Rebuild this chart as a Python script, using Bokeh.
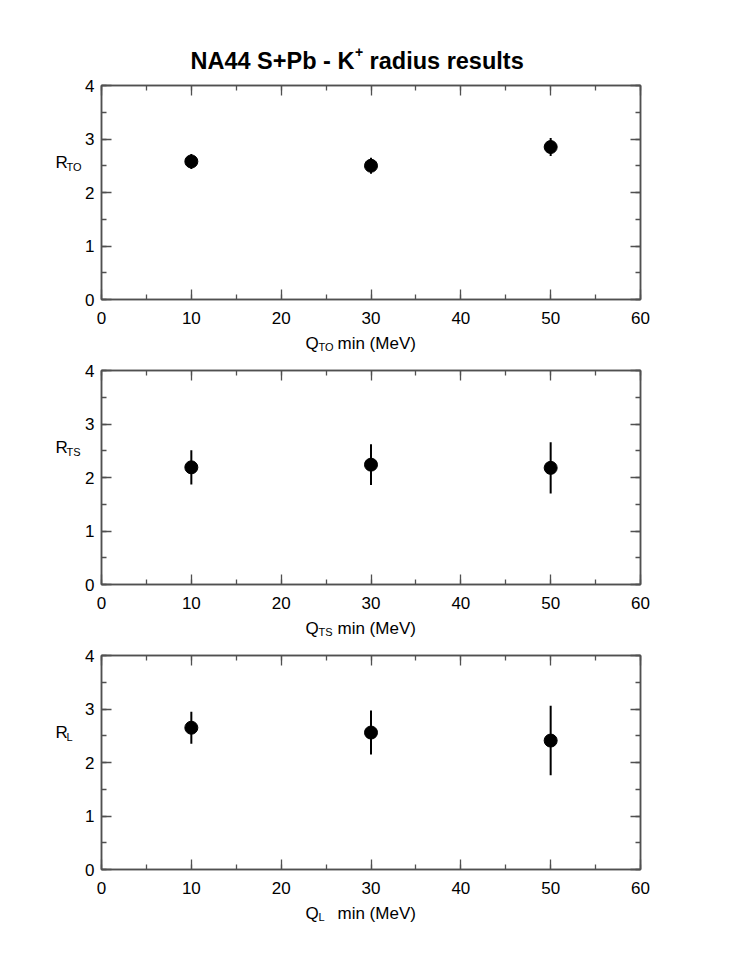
from bokeh.plotting import figure
from bokeh.layouts import column, row
from bokeh.models import (Range1d, LinearAxis, SingleIntervalTicker, Label,
                          CustomJSTickFormatter, ColumnDataSource)
from bokeh.embed import file_html
from bokeh.resources import INLINE

# ---- data ----
q_min = [10, 30, 50]
r_to = [2.58, 2.50, 2.85]
r_to_err = [0.14, 0.15, 0.17]
r_ts = [2.19, 2.24, 2.18]
r_ts_err = [0.32, 0.38, 0.48]
r_l = [2.65, 2.56, 2.41]
r_l_err = [0.30, 0.41, 0.65]

title_main = "NA44 S+Pb - K"
title_sup = "+"
title_rest = "radius results"
panels = [
    ("TO", r_to, r_to_err),
    ("TS", r_ts, r_ts_err),
    ("L", r_l, r_l_err),
]

FONT = "Liberation Sans"
AX_COL = "#505050"
PAGE_W = 740
FRAME_W, FRAME_H = 539, 214
YLAB_W = 82
LEFT_B, BOT_B = 19, 31
RIGHT_B = PAGE_W - YLAB_W - LEFT_B - FRAME_W
XLAB_H = 30
TITLE_H = 75
TOP_BS = [10, 10, 10]


def style_axis(ax, labels=True):
    ax.axis_line_color = AX_COL
    ax.axis_line_width = 1.5
    ax.major_tick_line_color = AX_COL
    ax.minor_tick_line_color = AX_COL
    ax.major_tick_line_width = 1.3
    ax.minor_tick_line_width = 1.3
    ax.major_tick_in = 10
    ax.major_tick_out = 0
    ax.minor_tick_in = 5
    ax.minor_tick_out = 0
    ax.major_label_text_font = FONT
    ax.major_label_text_color = "black"
    if labels:
        ax.major_label_text_font_size = "17px"
    else:
        ax.formatter = CustomJSTickFormatter(code="return ''")
        ax.major_label_text_font_size = "0px"
        ax.major_label_standoff = 0


def text_fig(w, h):
    f = figure(width=w, height=h, x_range=Range1d(0, w), y_range=Range1d(h, 0),
               min_border=0, x_axis_location=None, y_axis_location=None,
               output_backend="svg", toolbar_location=None)
    f.grid.visible = False
    f.outline_line_color = None
    f.background_fill_color = "white"
    f.border_fill_color = "white"
    return f


def txt(f, x, y, s, size, bold=False, align="left"):
    f.add_layout(Label(x=x, y=y, text=s, text_font=FONT, text_font_size=size,
                       text_font_style="bold" if bold else "normal",
                       text_baseline="alphabetic", text_align=align,
                       text_color="black"))


children = []
tf = text_fig(PAGE_W, TITLE_H)
# title pieces (Helvetica-Bold widths: main 6.974 em, space 0.278 em)
TS = 23.5
tx0 = 190
TB = 60
txt(tf, tx0, TB, title_main, f"{TS}px", bold=True)
tx1 = tx0 + 6.974 * TS + 0.5
txt(tf, tx1, TB - 9, title_sup, "14px", bold=True)
tx2 = tx1 + 0.584 * 14 + 0.278 * TS
txt(tf, tx2, TB, title_rest, f"{TS}px", bold=True)
children.append(tf)

for i, (sub, vals, errs) in enumerate(panels):
    top_b = TOP_BS[i]
    p = figure(frame_width=FRAME_W, frame_height=FRAME_H,
               min_border_left=LEFT_B, min_border_right=RIGHT_B,
               min_border_top=top_b, min_border_bottom=BOT_B,
               x_range=Range1d(0, 60), y_range=Range1d(0, 4),
               x_axis_location=None, y_axis_location=None,
               output_backend="svg", toolbar_location=None)
    p.grid.visible = False
    p.outline_line_color = AX_COL
    p.outline_line_width = 1.5
    p.background_fill_color = "white"
    p.border_fill_color = "white"

    def xt():
        return SingleIntervalTicker(interval=10, num_minor_ticks=2)

    def yt():
        return SingleIntervalTicker(interval=1, num_minor_ticks=2)

    xb = LinearAxis(ticker=xt(), major_label_standoff=12)
    style_axis(xb)
    p.add_layout(xb, "below")
    yl = LinearAxis(ticker=yt(), major_label_standoff=7)
    style_axis(yl)
    p.add_layout(yl, "left")
    xa = LinearAxis(ticker=xt())
    style_axis(xa, labels=False)
    p.add_layout(xa, "above")
    yr = LinearAxis(ticker=yt())
    style_axis(yr, labels=False)
    p.add_layout(yr, "right")

    src = ColumnDataSource(dict(x=q_min, y=vals,
                                lo=[v - e for v, e in zip(vals, errs)],
                                hi=[v + e for v, e in zip(vals, errs)]))
    p.segment(x0="x", y0="lo", x1="x", y1="hi", source=src,
              line_color="black", line_width=2)
    p.scatter(x="x", y="y", source=src, size=13, color="black")

    block_h = top_b + FRAME_H + BOT_B
    yf = text_fig(YLAB_W, block_h)
    txt(yf, 55, top_b + 82, "R", "17px")
    txt(yf, 66, top_b + 87, sub, "11px")

    xf = text_fig(PAGE_W, XLAB_H)
    txt(xf, 305, 12.5, "Q", "17px")
    txt(xf, 318, 16.5, sub, "11px")
    txt(xf, 337, 12.5, "min (MeV)", "17px")

    children.append(row(yf, p, spacing=0))
    children.append(xf)

layout = column(*children, spacing=0)
open("out.html", "w").write(file_html(layout, INLINE))
